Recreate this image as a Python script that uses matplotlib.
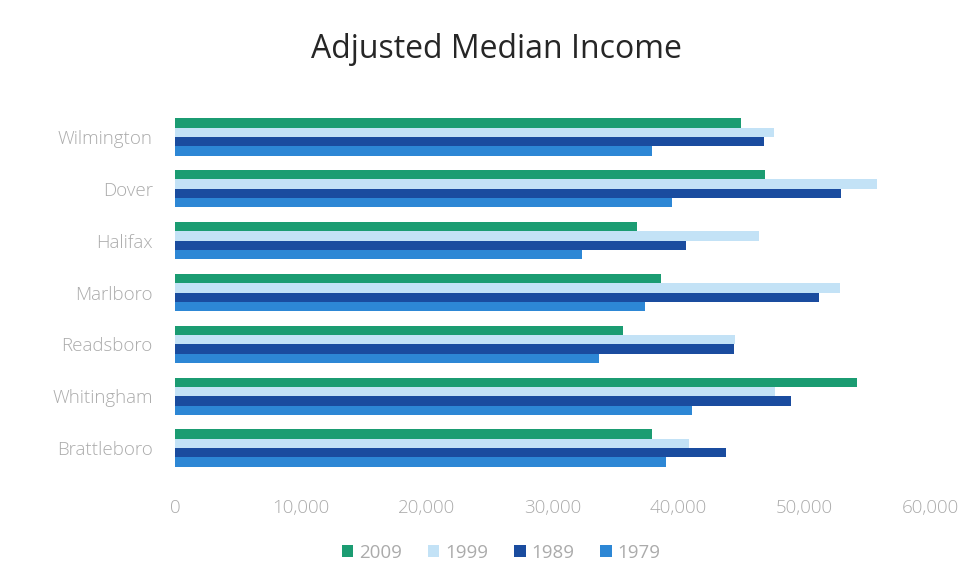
import matplotlib.pyplot as plt
import numpy as np

towns = ['Wilmington', 'Dover', 'Halifax', 'Marlboro', 'Readsboro', 'Whitingham', 'Brattleboro']
years = ['2009', '1999', '1989', '1979']
income_2009 = [45000, 46900, 36700, 38600, 35600, 54200, 37900]
income_1999 = [47600, 55800, 46400, 52800, 44500, 47700, 40800]
income_1989 = [46800, 52900, 40600, 51200, 44400, 48900, 43800]
income_1979 = [37900, 39500, 32300, 37300, 33700, 41100, 39000]
colors = ['#1b9c72', '#c3e2f6', '#1a4c9f', '#2d87d5']

series = [income_2009, income_1999, income_1989, income_1979]

plt.rcParams['font.family'] = ['Open Sans', 'DejaVu Sans']
fig = plt.figure(figsize=(9.67, 5.81), dpi=100)
ax = fig.add_axes([0.181, 0.184, 0.781, 0.625])

y = np.arange(len(towns))
h = 0.18
for i, (vals, yr, c) in enumerate(zip(series, years, colors)):
    ax.barh(y + (i - 1.5) * h, vals, height=h, color=c, label=yr)

ax.set_ylim(len(towns) - 0.5, -0.5)
ax.set_xlim(0, 60000)
ax.set_xticks(np.arange(0, 60001, 10000))
ax.set_xticklabels([f'{v:,}' for v in range(0, 60001, 10000)])
ax.set_yticks(y)
ax.set_yticklabels(towns)
ax.tick_params(axis='both', length=0, labelsize=13.5, labelcolor='#ababab')
ax.tick_params(axis='x', pad=18)
ax.tick_params(axis='y', pad=16)
for lbl in ax.get_xticklabels() + ax.get_yticklabels():
    lbl.set_fontweight('light')
for s in ax.spines.values():
    s.set_visible(False)

fig.text(0.513, 0.915, 'Adjusted Median Income', fontsize=23, color='#262626',
         ha='center', va='center')
leg = ax.legend(loc='center', bbox_to_anchor=(0.432, -0.217), ncol=4, frameon=False,
                fontsize=13.5, labelcolor='#ababab', handlelength=0.6, handleheight=0.6,
                handletextpad=0.3, columnspacing=1.4)

fig.savefig('out.png', dpi=100)
